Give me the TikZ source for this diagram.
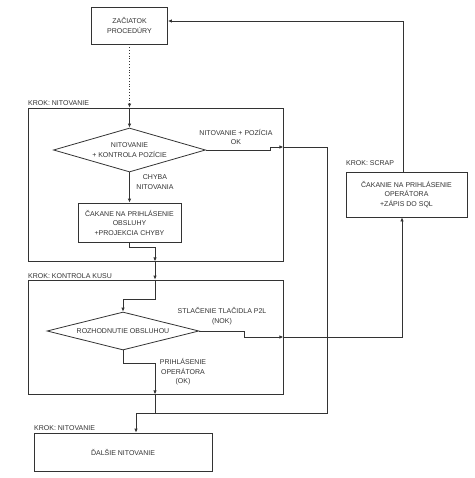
\documentclass[tikz,border=0pt]{standalone}
\usepackage{fontspec}
\setmainfont{Liberation Sans}
\usetikzlibrary{shapes.geometric,arrows.meta,calc}
\definecolor{ln}{HTML}{333333}
\begin{document}
\begin{tikzpicture}[x=1pt,y=-1pt,
  every node/.style={font=\fontsize{7}{9.5}\selectfont,text=ln,align=center},
  box/.style={draw=ln,line width=0.8pt,rectangle,inner sep=0pt},
  grp/.style={draw=ln,line width=0.8pt,rectangle,inner sep=0pt},
  dia/.style={draw=ln,line width=0.8pt,diamond,inner sep=0pt},
  conn/.style={draw=ln,line width=0.8pt,-{Latex[length=4pt,width=3.5pt]}},
  plain/.style={draw=ln,line width=0.8pt},
  lbl/.style={inner sep=0pt},
  steplbl/.style={inner sep=0pt,anchor=base west}]
\useasboundingbox (0,0) rectangle (474,478);
\fill[white] (0,0) rectangle (474,478);
% containers
\node[grp,minimum width=255pt,minimum height=153pt] (c1) at (155.5,184.5) {};
\node[grp,minimum width=255pt,minimum height=114pt] (c2) at (155.5,337) {};
\node[steplbl] (l1) at (28,106) {KROK: NITOVANIE};
\node[steplbl] (l2) at (28,278) {KROK: KONTROLA KUSU};
\node[steplbl] (l3) at (346,166) {KROK: SCRAP};
\node[steplbl] (l4) at (34,430) {KROK: NITOVANIE};
% nodes
\node[box,minimum width=76pt,minimum height=37pt] (start) at (129.5,25.5) {ZAČIATOK\\PROCEDÚRY};
\node[dia,aspect=3.45,minimum width=152pt,minimum height=44pt] (d1) at (129.5,150) {NITOVANIE\\+ KONTROLA POZÍCIE};
\node[box,minimum width=103pt,minimum height=39pt] (b2) at (129.5,222.5) {ČAKANE NA PRIHLÁSENIE\\OBSLUHY\\+PROJEKCIA CHYBY};
\node[dia,aspect=4,minimum width=152pt,minimum height=38pt] (d2) at (123,331) {ROZHODNUTIE OBSLUHOU};
\node[box,minimum width=178pt,minimum height=38pt] (next) at (123,452) {ĎALŠIE NITOVANIE};
\node[box,minimum width=121pt,minimum height=45pt] (scrap) at (406.5,194.5) {ČAKANIE NA PRIHLÁSENIE\\OPERÁTORA\\+ZÁPIS DO SQL};
% labels
\node[lbl] (t1) at (236,137) {NITOVANIE + POZÍCIA\\OK};
\node[lbl] (t2) at (155,182) {CHYBA\\NITOVANIA};
\node[lbl] (t3) at (222,316) {STLAČENIE TLAČIDLA P2L\\(NOK)};
\node[lbl] (t4) at (183,372) {PRIHLÁSENIE\\OPERÁTORA\\(OK)};
% coordinates
\coordinate (k1) at (c1.east |- 0,147);
\coordinate (k2) at (c2.east |- 0,337);
\coordinate (j) at (155,413);
\coordinate (sx) at (403,0);
% connectors
\draw[conn,dotted] (start.south) -- (start.south |- c1.north);
\draw[conn] (start.south |- c1.north) -- (d1.north);
\draw[conn] (d1.east) -- (270,150) -- (270,147) -- (k1);
\draw[conn] (k1) -- (327,147) -- (327,413) -- (136,413) -- (next.north -| 136,0);
\draw[conn] (d1.south) -- (b2.north);
\draw[conn] (b2.south) -- ++(0,5) -| (c1.south -| j);
\draw[conn] (c1.south -| j) -- (c2.north -| j);
\draw[conn] (c2.north -| j) -- (155,299) -| (d2.north);
\draw[conn] (d2.east) -- (244,331) -- (244,337) -- (k2);
\draw[conn] (k2) -- (402,337) -- (scrap.south -| 402,0);
\draw[conn] (d2.south) -- (123,363) -| (c2.south -| j);
\draw[plain] (c2.south -| j) -- (j);
\draw[conn] (scrap.north -| sx) -- (403,21) -- (start.east |- 0,21);
\end{tikzpicture}
\end{document}
